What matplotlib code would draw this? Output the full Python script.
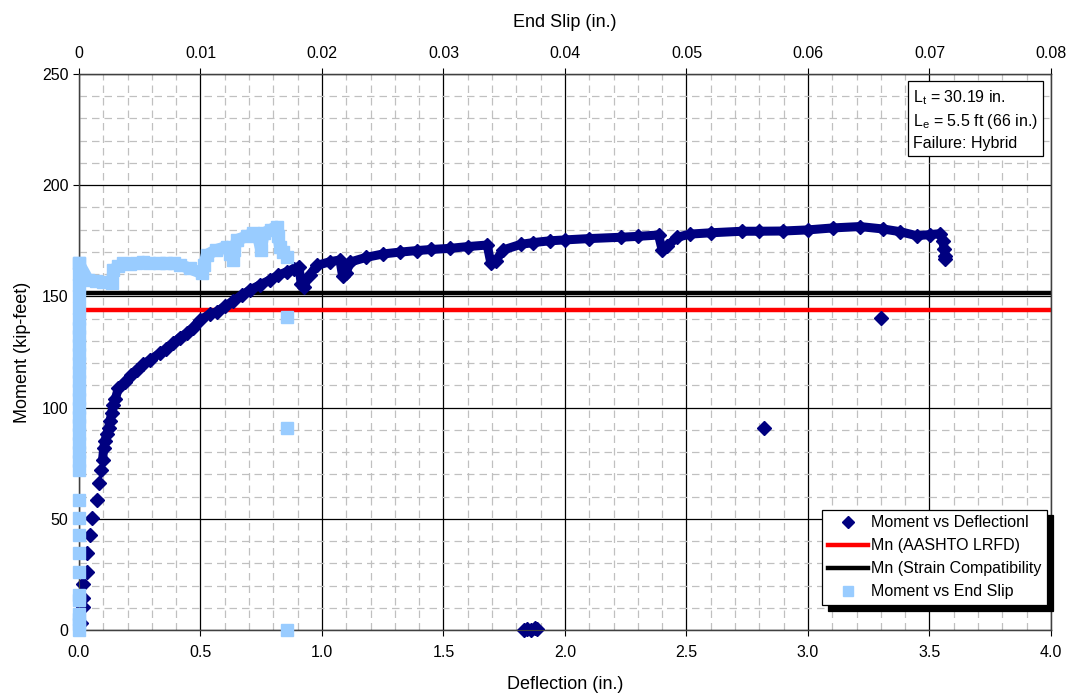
import matplotlib
matplotlib.use("Agg")
import matplotlib.pyplot as plt
from matplotlib.ticker import MultipleLocator

plt.rcParams['font.family'] = ['Liberation Sans', 'DejaVu Sans']

# Moment vs Deflection (main curve)
defl = [0.010, 0.015, 0.018, 0.018, 0.032, 0.034, 0.045, 0.055, 0.073, 0.082,
        0.089, 0.097, 0.102, 0.107, 0.114, 0.122, 0.128, 0.134, 0.141, 0.150,
        0.162, 0.189, 0.215, 0.237, 0.265, 0.292, 0.333, 0.360, 0.388, 0.415,
        0.443, 0.470, 0.498, 0.539, 0.567, 0.600, 0.635, 0.670, 0.704, 0.745,
        0.786, 0.820, 0.855, 0.885, 0.905, 0.915, 0.925, 0.950, 0.978, 1.033,
        1.074, 1.085, 1.100, 1.115, 1.180, 1.252, 1.320, 1.390, 1.450, 1.527,
        1.600, 1.680, 1.695, 1.715, 1.746, 1.818, 1.870, 1.938, 2.000, 2.100,
        2.232, 2.300, 2.385, 2.400, 2.420, 2.460, 2.513, 2.600, 2.730, 2.800,
        2.898, 3.000, 3.104, 3.214, 3.310, 3.379, 3.447, 3.502, 3.545, 3.555,
        3.560, 3.565, 3.565]
moment_d = [3.0, 10.5, 14.2, 20.7, 26.2, 34.5, 42.7, 50.5, 58.5, 66.2,
            71.9, 76.4, 82.0, 85.0, 88.0, 91.0, 94.0, 97.4, 101.0, 104.0,
            108.7, 111.6, 114.5, 116.9, 119.5, 121.4, 124.4, 126.5, 128.9, 131.5,
            133.4, 136.0, 139.4, 142.0, 143.1, 145.5, 147.9, 150.5, 152.9, 155.2,
            157.4, 159.5, 161.1, 162.5, 163.4, 155.5, 154.4, 159.5, 163.9, 165.6,
            166.4, 159.0, 160.5, 165.4, 167.5, 169.1, 169.9, 170.6, 171.1, 171.6,
            172.4, 173.1, 165.0, 166.0, 170.9, 173.4, 174.2, 175.0, 175.4, 176.0,
            176.6, 177.0, 177.6, 170.9, 172.5, 176.5, 178.0, 178.6, 179.3, 179.3,
            179.4, 179.9, 180.8, 181.4, 180.3, 179.1, 177.3, 177.8, 178.2, 175.0,
            171.5, 168.2, 167.0]
band_d = 11  # from here on the readings are dense enough to form a band

# stray readings of the deflection series
defl_out = [3.30, 2.82, 1.830, 1.845, 1.860, 1.875, 1.885]
moment_d_out = [140.5, 90.8, 0.0, 0.5, 0.0, 0.8, 0.3]

# Moment vs End Slip: readings with zero slip
slip0 = [0.0] * 34
moment_s0 = [0.0, 2.5, 5.0, 7.0, 13.5, 15.7, 26.2, 34.5, 42.7, 50.2,
             58.5, 72.0, 76.0, 80.0, 84.0, 88.0, 92.0, 96.0, 100.0, 104.0,
             108.0, 112.0, 116.0, 120.0, 124.0, 128.0, 132.0, 136.0, 140.0, 145.0,
             150.0, 155.0, 160.0, 164.9]
# Moment vs End Slip: slipping part
slip = [0.0, 0.00076, 0.0014, 0.0020, 0.0027, 0.00282, 0.0032, 0.00364, 0.0042, 0.0047,
        0.0053, 0.0058, 0.0066, 0.0072, 0.0078, 0.0083, 0.0091, 0.0101, 0.0103, 0.0105,
        0.0113, 0.0122, 0.0124, 0.0127, 0.0128, 0.0130, 0.0138, 0.0143, 0.0147, 0.0150,
        0.0152, 0.0158, 0.01626, 0.0164, 0.01654, 0.0168, 0.0171]
moment_s = [164.9, 157.4, 157.0, 156.6, 155.9, 161.9, 163.5, 164.9, 164.5, 164.9,
            165.6, 165.0, 164.9, 165.0, 164.9, 164.2, 162.6, 160.4, 164.0, 168.6,
            170.9, 172.4, 169.0, 166.4, 171.0, 175.4, 177.0, 178.4, 177.5, 170.9,
            178.4, 180.0, 181.4, 177.0, 172.4, 170.0, 167.9]
slip_out = [0.0171, 0.0171, 0.0171]
moment_s_out = [140.9, 91.0, 0.0]

# nominal capacities
mn_aashto = 144.0
mn_strain = 151.5

navy = '#000080'
light = '#99ccff'

fig = plt.figure(figsize=(10.7, 6.98), dpi=100)
ax = fig.add_axes([0.0738, 0.0974, 0.9084, 0.7966])

ax.set_xlim(0, 4.0)
ax.set_ylim(0, 250)
ax.xaxis.set_major_locator(MultipleLocator(0.5))
ax.xaxis.set_minor_locator(MultipleLocator(0.1))
ax.yaxis.set_major_locator(MultipleLocator(50))
ax.yaxis.set_minor_locator(MultipleLocator(10))
ax.grid(which='minor', color='#c0c0c0', linestyle=(0, (6, 4)), linewidth=0.9)
ax.grid(which='major', color='black', linestyle='-', linewidth=0.9)
ax.set_axisbelow(True)
ax.xaxis.set_major_formatter(lambda v, p: '%.1f' % v)
ax.tick_params(which='major', direction='out', length=4, labelsize=11.5)
ax.tick_params(axis='x', which='major', pad=7)
ax.tick_params(which='minor', length=0)
for s in ax.spines.values():
    s.set_color('#404040')
    s.set_linewidth(1.0)

ax.plot(defl[band_d:], moment_d[band_d:], color=navy, lw=6.5,
        solid_joinstyle='round', solid_capstyle='round', zorder=3, clip_on=False)
h_d, = ax.plot(defl, moment_d, 'D', color=navy, ms=7, zorder=3,
               clip_on=False, label='Moment vs Deflectionl')
ax.plot(defl_out, moment_d_out, 'D', color=navy, ms=7, zorder=3, clip_on=False)

h_a, = ax.plot([0, 4.0], [mn_aashto, mn_aashto], color='#ff0000', lw=3.2,
               zorder=2.5, label='Mn (AASHTO LRFD)')
h_s, = ax.plot([0, 4.0], [mn_strain, mn_strain], color='black', lw=3.2,
               zorder=2.5, label='Mn (Strain Compatibility')

ax.set_xlabel('Deflection (in.)', fontsize=13, labelpad=11)
ax.set_ylabel('Moment (kip-feet)', fontsize=13, labelpad=8)

ax.text(0.858, 0.975,
        'L$_\\mathregular{t}$ = 30.19 in.\nL$_\\mathregular{e}$ = 5.5 ft (66 in.)\nFailure: Hybrid',
        transform=ax.transAxes, ha='left', va='top', fontsize=11.5,
        linespacing=1.4, zorder=6,
        bbox=dict(boxstyle='square,pad=0.3', fc='white', ec='black', lw=0.9))

# end slip on top axis
ax2 = ax.twiny()
ax2.set_xlim(0, 0.08)
slip_ticks = [0, 0.01, 0.02, 0.03, 0.04, 0.05, 0.06, 0.07, 0.08]
slip_labels = ['0', '0.01', '0.02', '0.03', '0.04', '0.05', '0.06', '0.07', '0.08']
ax2.set_xticks(slip_ticks)
ax2.set_xticklabels(slip_labels)
ax2.tick_params(direction='out', length=4, labelsize=11.5, pad=5)
ax2.set_xlabel('End Slip (in.)', fontsize=13, labelpad=14)
for s in ax2.spines.values():
    s.set_color('#404040')

ax2.plot(slip, moment_s, color=light, lw=8.5, solid_joinstyle='round',
         solid_capstyle='butt', zorder=3, clip_on=False)
ax2.plot(slip, moment_s, 's', color=light, ms=8.5, zorder=3, clip_on=False)
h_e, = ax2.plot(slip0, moment_s0, 's', color=light, ms=8, zorder=3,
                clip_on=False, label='Moment vs End Slip')
ax2.plot(slip_out, moment_s_out, 's', color=light, ms=8, zorder=3, clip_on=False)

leg = ax2.legend(handles=[h_d, h_a, h_s, h_e], loc='lower right',
                 bbox_to_anchor=(0.996, 0.045), borderaxespad=0,
                 fontsize=11.5, fancybox=False, edgecolor='black',
                 handlelength=2.5, handletextpad=0.2, borderpad=0.35,
                 labelspacing=0.5, framealpha=1, markerscale=0.85,
                 shadow={'color': 'black', 'alpha': 1, 'ox': 4, 'oy': -4})
leg.get_frame().set_linewidth(0.9)

fig.savefig('out.png', dpi=100)
